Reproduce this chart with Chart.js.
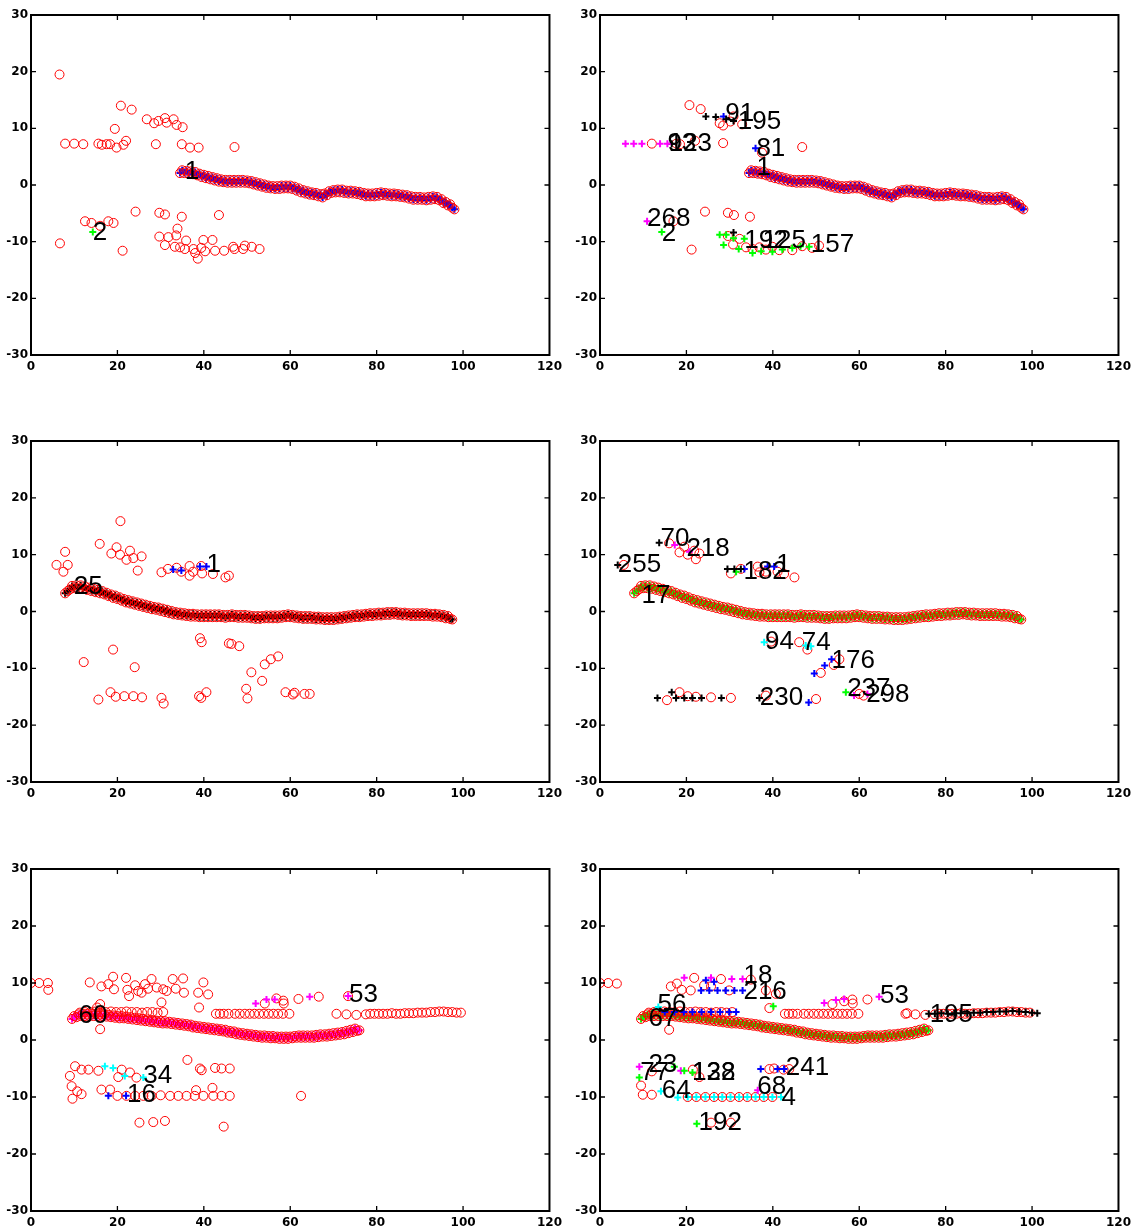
<!DOCTYPE html>
<html><head><meta charset="utf-8">
<script src="https://cdn.jsdelivr.net/npm/chart.js@4.4.1/dist/chart.umd.min.js"></script>
<style>
html,body{margin:0;padding:0;background:#fff;width:1137px;height:1227px;overflow:hidden}
canvas{position:absolute}
</style></head><body>
<script>
// ---- axis ticks ----
const xTicks = [0,20,40,60,80,100,120];
const yTicks = [-30,-20,-10,0,10,20,30];

// ---- main tracks (centre and upper edge of each dense band) ----
const bandA_x = [34.5,35.5,36.5,37.5,38.5,39.5,40.5,41.5,42.5,43.5,44.5,45.5,46.5,47.5,48.5,49.5,50.5,51.5,52.5,53.5,54.5,55.5,56.5,57.5,58.5,59.5,60.5,61.5,62.5,63.5,64.5,65.5,66.5,67.5,68.5,69.5,70.5,71.5,72.5,73.5,74.5,75.5,76.5,77.5,78.5,79.5,80.5,81.5,82.5,83.5,84.5,85.5,86.5,87.5,88.5,89.5,90.5,91.5,92.5,93.5,94.5,95.5,96.5,97.5,98];
const bandA_y = [2.1,2.1,2.0,1.9,1.7,1.4,1.2,1.0,0.8,0.6,0.5,0.4,0.4,0.4,0.4,0.4,0.3,0.1,-0.1,-0.3,-0.5,-0.6,-0.7,-0.7,-0.6,-0.6,-0.7,-1.0,-1.3,-1.5,-1.7,-1.8,-2.0,-2.2,-1.8,-1.4,-1.3,-1.3,-1.4,-1.5,-1.5,-1.6,-1.8,-2.0,-2.0,-2.0,-1.9,-1.8,-1.9,-2.0,-2.0,-2.1,-2.2,-2.4,-2.6,-2.6,-2.6,-2.7,-2.6,-2.5,-2.7,-3.2,-3.6,-4.0,-4.3];
const bandA2_x = [35,36,37,38,39,40,41,42,43,44,45,46,47,48,49,50,51,52,53,54,55,56,57,58,59,60,61,62,63,64,65,66,67,68,69,70,71,72,73,74,75,76,77,78,79,80,81,82,83,84,85,86,87,88,89,90,91,92,93,94,95,96,97];
const bandA2_y = [2.6,2.5,2.4,2.3,2.0,1.8,1.6,1.4,1.2,1.0,0.9,0.9,0.9,0.9,0.9,0.8,0.7,0.5,0.3,0.1,-0.1,-0.2,-0.2,-0.1,-0.1,-0.1,-0.3,-0.6,-0.9,-1.1,-1.3,-1.4,-1.6,-1.5,-1.1,-0.9,-0.8,-0.8,-1.0,-1.0,-1.1,-1.2,-1.4,-1.5,-1.5,-1.4,-1.3,-1.4,-1.5,-1.5,-1.6,-1.7,-1.8,-2.0,-2.1,-2.1,-2.2,-2.1,-2.0,-2.1,-2.5,-3.0,-3.4];
const bandB_x = [7.9,8.5,9,10,11,12,13,14,15,16,17,18,19,20,21,22,23,24,25,26,27,28,29,30,31,32,33,34,35,36,37,38,39,40,41,42,43,44,45,46,47,48,49,50,51,52,53,54,55,56,57,58,59,60,61,62,63,64,65,66,67,68,69,70,71,72,73,74,75,76,77,78,79,80,81,82,83,84,85,86,87,88,89,90,91,92,93,94,95,96,97,97.5];
const bandB_y = [3.2,3.6,3.9,4.1,4.1,4.0,3.8,3.6,3.4,3.2,3.0,2.7,2.4,2.2,1.9,1.6,1.4,1.2,1.0,0.8,0.6,0.4,0.3,0.1,-0.1,-0.3,-0.5,-0.6,-0.7,-0.8,-0.9,-0.9,-1.0,-1.0,-1.0,-1.0,-1.0,-1.0,-1.1,-1.0,-1.0,-1.1,-1.1,-1.1,-1.2,-1.3,-1.3,-1.2,-1.2,-1.2,-1.2,-1.1,-1.0,-1.0,-1.1,-1.2,-1.3,-1.3,-1.3,-1.4,-1.4,-1.5,-1.5,-1.5,-1.4,-1.3,-1.2,-1.1,-1.0,-1.0,-0.9,-0.8,-0.8,-0.7,-0.7,-0.6,-0.6,-0.5,-0.6,-0.7,-0.7,-0.8,-0.8,-0.8,-0.8,-0.8,-0.9,-0.9,-1.0,-1.2,-1.3,-1.4];
const bandB2_x = [9.5,10.5,11.5,12.5,13.5,14.5,15.5,16.5,17.5,18.5,19.5,20.5,21.5,22.5,23.5,24.5,25.5,26.5,27.5,28.5,29.5,30.5,31.5,32.5,33.5,34.5,35.5,36.5,37.5,38.5,39.5,40.5,41.5,42.5,43.5,44.5,45.5,46.5,47.5,48.5,49.5,50.5,51.5,52.5,53.5,54.5,55.5,56.5,57.5,58.5,59.5,60.5,61.5,62.5,63.5,64.5,65.5,66.5,67.5,68.5,69.5,70.5,71.5,72.5,73.5,74.5,75.5,76.5,77.5,78.5,79.5,80.5,81.5,82.5,83.5,84.5,85.5,86.5,87.5,88.5,89.5,90.5,91.5,92.5,93.5,94.5,95.5,96.5];
const bandB2_y = [4.5,4.6,4.6,4.4,4.2,4.0,3.8,3.6,3.3,3.0,2.8,2.5,2.2,2.0,1.8,1.6,1.4,1.2,1.0,0.8,0.7,0.5,0.3,0.1,-0.1,-0.2,-0.3,-0.4,-0.4,-0.5,-0.5,-0.5,-0.5,-0.5,-0.5,-0.6,-0.6,-0.5,-0.6,-0.6,-0.6,-0.7,-0.8,-0.8,-0.8,-0.7,-0.7,-0.7,-0.7,-0.6,-0.5,-0.6,-0.7,-0.8,-0.8,-0.8,-0.9,-0.9,-1.0,-1.0,-1.0,-1.0,-0.9,-0.8,-0.7,-0.6,-0.5,-0.5,-0.4,-0.3,-0.3,-0.2,-0.2,-0.1,-0.1,-0.1,-0.2,-0.2,-0.3,-0.3,-0.3,-0.3,-0.3,-0.4,-0.4,-0.5,-0.6,-0.8];
const bandC_x = [9.5,10.5,11.5,12.5,13.5,14.5,15.5,16.5,17.5,18.5,19.5,20.5,21.5,22.5,23.5,24.5,25.5,26.5,27.5,28.5,29.5,30.5,31.5,32.5,33.5,34.5,35.5,36.5,37.5,38.5,39.5,40.5,41.5,42.5,43.5,44.5,45.5,46.5,47.5,48.5,49.5,50.5,51.5,52.5,53.5,54.5,55.5,56.5,57.5,58.5,59.5,60.5,61.5,62.5,63.5,64.5,65.5,66.5,67.5,68.5,69.5,70.5,71.5,72.5,73.5,74.5,75.5,76];
const bandC_y = [3.7,4.0,4.2,4.2,4.2,4.2,4.2,4.2,4.1,4.0,3.9,3.8,3.8,3.7,3.6,3.5,3.4,3.3,3.2,3.1,3.0,2.9,2.9,2.8,2.7,2.6,2.5,2.4,2.2,2.1,2.0,1.9,1.8,1.7,1.6,1.5,1.3,1.2,1.0,0.9,0.8,0.7,0.6,0.5,0.4,0.4,0.3,0.3,0.2,0.2,0.2,0.3,0.4,0.4,0.4,0.4,0.4,0.5,0.6,0.6,0.7,0.8,0.9,1.0,1.2,1.4,1.6,1.7];
const bandC2_x = [10,11,12,13,14,15,16,17,18,19,20,21,22,23,24,25,26,27,28,29,30,31,32,33,34,35,36,37,38,39,40,41,42,43,44,45,46,47,48,49,50,51,52,53,54,55,56,57,58,59,60,61,62,63,64,65,66,67,68,69,70,71,72,73,74,75];
const bandC2_y = [4.2,4.5,4.6,4.6,4.6,4.6,4.6,4.5,4.4,4.3,4.2,4.2,4.1,4.0,3.9,3.8,3.7,3.6,3.5,3.4,3.3,3.3,3.2,3.1,3.0,2.9,2.8,2.7,2.5,2.4,2.3,2.2,2.1,2.0,1.9,1.8,1.6,1.5,1.3,1.2,1.1,1.0,0.9,0.8,0.8,0.7,0.7,0.6,0.6,0.6,0.6,0.7,0.8,0.8,0.8,0.8,0.9,1.0,1.0,1.1,1.2,1.3,1.4,1.6,1.8,2.0];
const topC_x = [11.3,12.5,13.7,14.9,16.1,17.3,18.5,19.7,20.9,22.1,23.3,24.5,25.7,26.9,28.1,29.3,30.6];
const topC_y = [4.8,4.9,4.9,5.0,4.9,4.9,5.0,4.9,4.9,5.0,4.9,4.9,4.8,4.9,4.9,4.8,4.9];
const farC_x = [42.8,43.7,44.6,45.7,47.2,48.3,49.5,50.6,51.7,52.8,53.9,55,56.1,57.2,58.3,59.8,70.7,73,75.3,77.5,78.5,79.5,80.5,81.5,82.5,83.5,84.5,85.5,86.5,87.5,88.5,89.5,90.5,91.5,92.5,93.5,94.5,95.5,96.5,97.5,98.5,99.5];
const farC_y = [4.6,4.6,4.6,4.6,4.6,4.6,4.6,4.6,4.6,4.6,4.6,4.6,4.6,4.6,4.6,4.6,4.6,4.5,4.4,4.5,4.6,4.6,4.6,4.6,4.6,4.7,4.6,4.6,4.7,4.7,4.7,4.8,4.8,4.8,4.9,4.9,5.0,5.0,4.9,4.9,4.8,4.8];

// ---- panel 1 ----
const p1Circles = [[6.6,19.5],[6.7,-10.3],[7.9,7.3],[10,7.3],[12.1,7.2],[12.5,-6.4],[14.0,-6.7],[15.6,7.3],[16.4,7.1],[16.0,-7.2],[17.5,7.2],[17.9,-6.4],[18.3,7.2],[19.1,-6.7],[19.4,9.9],[19.8,6.6],[20.8,14.0],[21.2,-11.6],[21.4,7.1],[22,7.8],[23.3,13.3],[24.2,-4.7],[26.8,11.6],[28.5,10.9],[28.9,7.2],[29.5,11.3],[29.7,-4.9],[29.7,-9.1],[31.0,-5.2],[31,11.8],[31.4,11.0],[31,-10.6],[31.8,-9.2],[33,11.6],[33.3,-10.9],[33.6,-8.9],[33.7,10.6],[33.9,-7.7],[34.5,-11],[34.9,-5.6],[34.9,7.2],[35.1,10.2],[35.6,-11.3],[35.9,-9.8],[36.8,6.6],[37.6,-11.3],[38,-12],[38.6,-13],[38.8,6.6],[39.4,-11.1],[39.9,-9.7],[40.3,-11.7],[42,-9.7],[42.6,-11.6],[43.5,-5.3],[44.7,-11.6],[46.8,-10.9],[47.1,6.7],[47.1,-11.3],[49.1,-11.3],[49.5,-10.7],[51.1,-10.9],[52.9,-11.3]];
const p1Green = [[14.3,-8.3]];
const p1Labels = [[35.6,2.3,'1'],[14.3,-8.4,'2']];

// ---- panel 2 ----
const p2Circles = [[20.7,14.1],[23.3,13.4],[27.7,10.9],[28.5,10.5],[30.9,12.1],[32.9,10.7],[30.2,11.2],[28.5,7.4],[12,7.3],[17.7,7.3],[18.5,7.2],[22,7.8],[37.5,5.7],[46.8,6.7],[24.3,-4.7],[29.6,-4.9],[31,-5.3],[34.7,-5.6],[21.2,-11.4],[17,-6.4],[29.6,-9],[30.8,-10.5],[32.3,-9.5],[33.8,-11],[35.3,-11.3],[36.9,-11],[38.4,-11.4],[39.9,-10.9],[41.5,-11.5],[44.5,-11.5],[46.8,-10.8],[49.1,-11.1],[50.7,-10.7]];
const p2Magenta = [[5.9,7.3],[7.8,7.3],[9.7,7.3],[13.9,7.3],[15.6,7.3],[10.9,-6.4]];
const p2Black = [[16.6,7.3],[24.5,12.1],[26.8,12.0],[29.2,11.6],[30.9,11.3],[30.9,-8.4]];
const p2Blue = [[28.6,12.1],[36,6.5]];
const p2Green = [[14.3,-8.3],[27.7,-8.8],[29.2,-8.8],[28.6,-10.6],[30.9,-9.4],[32.1,-11.3],[33.4,-9.5],[35.3,-12],[37.3,-11.7],[39.9,-11.8],[42.2,-11.4],[44.5,-11.1],[46.4,-10.8],[48.4,-10.9]];
const p2Labels = [[15.6,7.2,'93'],[15.9,7.2,'123'],[29.0,12.5,'91'],[31.9,11.2,'195'],[36.2,6.3,'81'],[36.2,3.1,'1'],[10.9,-6.0,'268'],[14.3,-8.6,'2'],[33.4,-9.9,'192'],[37.6,-9.9,'125'],[48.8,-10.6,'157']];

// ---- panel 3 ----
const p3Circles = [[5.9,8.2],[7.9,10.5],[7.5,7],[8.5,8.2],[15.9,11.9],[20.7,15.9],[18.6,10.2],[19.8,11.3],[20.6,10],[22.1,9.1],[22.9,10.7],[23.7,9.4],[24.7,7.2],[25.6,9.7],[30.2,6.9],[31.7,7.5],[33.7,7.7],[34.8,7],[36.7,8],[36.7,6.3],[37.5,7],[39.4,8],[39.6,6.7],[42.1,6.6],[45,6],[45.8,6.3],[12.2,-8.9],[19,-6.7],[24,-9.8],[15.6,-15.5],[18.4,-14.2],[19.6,-15],[21.6,-14.9],[23.7,-14.9],[25.7,-15.1],[30.2,-15.2],[30.7,-16.2],[39.1,-4.7],[39.5,-5.4],[38.9,-14.9],[39.4,-15.2],[40.6,-14.2],[45.8,-5.6],[46.4,-5.7],[48.2,-6.1],[49.8,-13.6],[50.1,-15.3],[51,-10.7],[53.5,-12.2],[54.1,-9.3],[55.5,-8.4],[57.2,-7.9],[58.9,-14.2],[60.6,-14.6],[61,-14.3],[63.3,-14.5],[64.5,-14.5]];
const p3Blue = [[32.9,7.4],[34.8,7.2],[39.1,7.9],[40.6,7.9]];
const p3Labels = [[9.9,4.4,'25'],[40.6,8.2,'1']];

// ---- panel 4 ----
const p4Circles = [[16,12],[18.4,10.4],[19.5,11.4],[20.3,10],[21.8,10.7],[23,10.2],[22.2,9.2],[30.3,6.7],[32.6,7.5],[36.5,7.9],[36.9,6.9],[38.4,7],[41.1,7],[42.6,6.6],[45,6],[5.5,8.2],[39.6,-5.3],[46.1,-5.4],[48,-6.7],[51.1,-10.8],[54.1,-9.4],[55.4,-8.4],[50,-15.4],[38.4,-14.8],[15.5,-15.6],[18.4,-14.2],[20.3,-14.9],[22.2,-15],[25.7,-15.1],[30.3,-15.2],[60,-14.5],[61,-14.8]];
const p4Black = [[4.1,8.2],[13.7,12.1],[29.5,7.5],[31.1,7.5],[32.6,7.5],[36.9,-15.2],[13.3,-15.2],[16.6,-14.2],[17.6,-15.2],[19.5,-15.2],[21.4,-15.2],[23.5,-15.2],[28.1,-15.2]];
const p4Magenta = [[17.3,11.7],[20.7,10.5],[58.8,-14.8],[61.9,-14.5]];
const p4Blue = [[33.4,7.5],[38.8,7.9],[40.3,7.9],[49.6,-10.9],[52,-9.5],[53.6,-8.4],[48.3,-16]];
const p4Green = [[31.5,7],[56.9,-14.2]];
const p4Cyan = [[38,-5.4],[47.6,-6],[48.8,-6.1]];
const p4Labels = [[4.1,8.3,'255'],[14.0,12.8,'70'],[20.0,11.0,'218'],[33.2,6.9,'182'],[40.8,8.2,'1'],[9.6,2.8,'17'],[38.2,-5.3,'94'],[46.7,-5.6,'74'],[53.6,-8.7,'176'],[37.0,-15.2,'230'],[57.2,-13.6,'237'],[61.6,-14.6,'298']];

// ---- panel 5 ----
const p5Circles = [[0,10],[1.9,10],[3.9,10],[4,8.8],[13.6,10.1],[16.3,9.4],[17.9,9.8],[19,11.1],[19.2,8.9],[22,10.9],[22.3,8.8],[22.7,7.7],[24.1,9.6],[24.8,8.6],[25.6,8.3],[26.4,9.8],[27.1,9],[27.9,10.7],[29.1,9.2],[30.6,8.9],[31.4,8.6],[32.8,10.7],[33.5,9],[35.2,10.8],[35.4,8.3],[38.7,8.3],[39.9,10.1],[41,8],[38.9,5.7],[30.2,6.6],[16,6.3],[16,1.9],[15.3,5.7],[9,-6.3],[10.2,-4.6],[11.7,-5.2],[13.3,-5.2],[15.6,-5.4],[9.4,-8.1],[9.6,-10.3],[10.7,-9],[11.7,-9.5],[16.3,-8.7],[18.3,-8.7],[20.2,-6.5],[21,-5.2],[22.9,-5.7],[24.4,-6.6],[20,-9.8],[22.1,-9.8],[24.1,-9.8],[26,-9.8],[27.9,-9.8],[30,-9.7],[32.2,-9.8],[34.1,-9.8],[36,-9.8],[37.9,-9.8],[39.9,-9.8],[42.2,-9.8],[44.1,-9.8],[46,-9.8],[38.2,-8.8],[42,-8.4],[36.2,-3.5],[39.1,-5],[39.5,-5.3],[42.6,-4.9],[44.1,-5],[46,-5],[25.1,-14.5],[28.3,-14.4],[31,-14.2],[44.6,-15.2],[62.5,-9.8],[54.1,6.4],[56.8,7.3],[58.4,6.9],[58.5,6.4],[61.9,7.2],[66.6,7.6],[73.4,7.7]];
const p5Magenta = [[52,6.4],[54.5,7.1],[56.4,7.1],[64.5,7.6],[73.4,7.7]];
const p5Cyan = [[17.1,-4.6],[19,-4.9],[21.7,-6.3],[26,-6.6]];
const p5Blue = [[17.9,-9.8],[22,-9.8]];
const p5Labels = [[11.0,4.3,'60'],[26.0,-6.3,'34'],[22.2,-9.6,'16'],[73.6,7.9,'53']];

// ---- panel 6 ----
const p6Circles = [[0,10],[1.9,10],[3.9,9.9],[16.4,9.4],[17.8,9.9],[18.9,8.8],[21.8,10.9],[21,8.7],[24.1,9.6],[25.7,9.4],[28,10.7],[29.9,8.7],[34.9,10.6],[38.4,8.7],[40.7,8.1],[39.2,5.6],[16,1.8],[9.5,-8],[9.9,-9.6],[12,-9.6],[12,-5.5],[21.5,-5.2],[23,-6.5],[25.7,-14.5],[30.3,-14.5],[39.2,-5.1],[40.3,-5],[42.5,-5.2],[43.8,-5.1],[20.3,-10],[22.3,-10],[24.4,-10],[26.4,-10],[28.3,-10],[30.2,-10],[32.2,-10],[34.1,-10],[36,-10],[37.9,-10],[39.9,-10],[53.8,6.3],[56.5,6.8],[58.4,7.1],[58.5,6.4],[61.9,7.1],[71.1,4.7]];
const p6Green = [[40.1,5.9],[9.1,-6.6],[17.2,-4.7],[19.5,-5.4],[21.4,-5.7],[22.4,-14.7]];
const p6Magenta = [[19.5,10.9],[25.7,10.9],[30.5,10.7],[33,10.7],[9.1,-4.7],[18.7,-5.4],[36.5,-8.8],[51.9,6.5],[54.6,7],[56.5,7.2],[64.6,7.6]];
const p6Blue = [[24.5,10.5],[26.4,10.2],[23.4,8.7],[25.3,8.7],[27.2,8.7],[29.1,8.7],[31.1,8.7],[33,8.7],[15,4.9],[17.2,4.9],[19.4,4.9],[21.4,4.9],[23.5,4.9],[25.7,4.9],[27.8,4.9],[29.9,4.9],[31.5,4.9],[37.2,-5.1],[41.1,-5.1],[42.6,-5.1]];
const p6Cyan = [[14.1,-9],[18,-10.1],[20.3,-10],[22.3,-10],[24.4,-10],[26.4,-10],[28.3,-10],[30.2,-10],[32.2,-10],[34.1,-10],[36,-10],[37.9,-10],[39.9,-10],[41.9,-10],[13.5,5.8]];
const p6Black = [[76.1,4.6],[77.5,4.6],[79,4.7],[80.5,4.6],[82,4.7],[83.5,4.7],[85,4.7],[86.5,4.8],[88,4.8],[89.5,4.9],[91,4.9],[92.5,5.0],[94,5.0],[95.5,5.1],[97,5.0],[98.5,4.9],[100,4.8],[101.2,4.7]];
const p6Labels = [[33.2,11.3,'18'],[33.2,8.4,'216'],[13.3,6.1,'56'],[11.2,3.7,'67'],[11.2,-4.3,'23'],[9.3,-5.8,'77'],[14.3,-8.9,'64'],[21.3,-5.8,'128'],[21.3,-5.8,'132'],[43.0,-4.8,'241'],[36.4,-8.3,'68'],[42.0,-10.2,'4'],[22.8,-14.6,'192'],[64.8,7.8,'53'],[76.3,4.5,'195']];

// ---- helpers ----
const RED='#ff0000', BLUE='#0000ff', GREEN='#00ff00', MAGENTA='#ff00ff', CYAN='#00ffff', BLACK='#000000';
const P = pairs => pairs.map(p => ({x:p[0], y:p[1]}));
const XY = (xs, ys) => xs.map((x,i) => ({x, y:ys[i]}));
const circ = data => ({data, pointStyle:'circle', pointRadius:4.5, pointHoverRadius:4.5, pointBorderWidth:1, pointBorderColor:RED, pointBackgroundColor:'rgba(0,0,0,0)', order:2});
const plus = (data, color, order) => ({data, pointStyle:'cross', pointRadius:3.5, pointHoverRadius:3.5, pointBorderWidth:2, pointBorderColor:color, pointBackgroundColor:color, order: order===undefined?1:order});
const band = (xs, ys, xs2, ys2, color) => [plus(XY(xs,ys),color,3), plus(XY(xs2,ys2),color,3), circ(XY(xs,ys)), circ(XY(xs2,ys2))];

const panels = [
  {c:0, r:0, labels:p1Labels, sets:[...band(bandA_x,bandA_y,bandA2_x,bandA2_y,BLUE), circ(P(p1Circles)), plus(P(p1Green),GREEN)]},
  {c:1, r:0, labels:p2Labels, sets:[...band(bandA_x,bandA_y,bandA2_x,bandA2_y,BLUE), circ(P(p2Circles)), plus(P(p2Magenta),MAGENTA), plus(P(p2Black),BLACK), plus(P(p2Blue),BLUE), plus(P(p2Green),GREEN)]},
  {c:0, r:1, labels:p3Labels, sets:[...band(bandB_x,bandB_y,bandB2_x,bandB2_y,BLACK), circ(P(p3Circles)), plus(P(p3Blue),BLUE)]},
  {c:1, r:1, labels:p4Labels, sets:[...band(bandB_x,bandB_y,bandB2_x,bandB2_y,GREEN), circ(P(p4Circles)), plus(P(p4Black),BLACK), plus(P(p4Magenta),MAGENTA), plus(P(p4Blue),BLUE), plus(P(p4Green),GREEN), plus(P(p4Cyan),CYAN)]},
  {c:0, r:2, labels:p5Labels, sets:[...band(bandC_x,bandC_y,bandC2_x,bandC2_y,MAGENTA), circ(XY(topC_x,topC_y)), circ(XY(farC_x,farC_y)), circ(P(p5Circles)), plus(P(p5Magenta),MAGENTA), plus(P(p5Cyan),CYAN), plus(P(p5Blue),BLUE)]},
  {c:1, r:2, labels:p6Labels, sets:[...band(bandC_x,bandC_y,bandC2_x,bandC2_y,GREEN), circ(XY(topC_x,topC_y)), circ(XY(farC_x,farC_y)), circ(P(p6Circles)), plus(P(p6Green),GREEN), plus(P(p6Magenta),MAGENTA), plus(P(p6Blue),BLUE), plus(P(p6Cyan),CYAN), plus(P(p6Black),BLACK)]}
];

// plot-area geometry (layout only)
const colLeft = [31, 600], plotW = 520;
const rowTop = [15, 441, 869], plotH = [340, 341, 342];
const PADL = 31, PADT = 12, PADR = 16, XH = 24;

const framePlugin = {
  id:'frame',
  afterDraw(chart){
    const {ctx, chartArea:a, scales:{x, y}} = chart;
    ctx.save();
    ctx.strokeStyle = '#000';
    ctx.lineWidth = 2;
    ctx.strokeRect(a.left, a.top, a.right-a.left, a.bottom-a.top);
    ctx.lineWidth = 1.3;
    ctx.beginPath();
    x.ticks.forEach(t => {
      const px = x.getPixelForValue(t.value);
      if (px <= a.left+1 || px >= a.right-1) return;
      ctx.moveTo(px, a.bottom); ctx.lineTo(px, a.bottom-5);
      ctx.moveTo(px, a.top); ctx.lineTo(px, a.top+5);
    });
    y.ticks.forEach(t => {
      const py = y.getPixelForValue(t.value);
      if (py <= a.top+1 || py >= a.bottom-1) return;
      ctx.moveTo(a.left, py); ctx.lineTo(a.left+5, py);
      ctx.moveTo(a.right, py); ctx.lineTo(a.right-5, py);
    });
    ctx.stroke();
    ctx.restore();
  }
};
const labelPlugin = labels => ({
  id:'numLabels',
  afterDatasetsDraw(chart){
    const {ctx, scales:{x, y}} = chart;
    ctx.save();
    ctx.font = '26px "Liberation Sans", Arial, sans-serif';
    ctx.fillStyle = '#000';
    ctx.textAlign = 'left';
    ctx.textBaseline = 'middle';
    labels.forEach(l => ctx.fillText(l[2], x.getPixelForValue(l[0]), y.getPixelForValue(l[1])));
    ctx.restore();
  }
});

const tickFont = {family:'"DejaVu Sans", Arial, sans-serif', weight:'bold', size:12};

panels.forEach(p => {
  const L = colLeft[p.c], T = rowTop[p.r], H = plotH[p.r];
  const cv = document.createElement('canvas');
  const W = PADL + plotW + PADR, CH = PADT + H + XH;
  cv.width = W; cv.height = CH;
  cv.style.left = (L - PADL) + 'px'; cv.style.top = (T - PADT) + 'px';
  cv.style.width = W + 'px'; cv.style.height = CH + 'px';
  document.body.appendChild(cv);
  new Chart(cv, {
    type:'scatter',
    data:{datasets:p.sets},
    options:{
      responsive:false, animation:false, events:[],
      devicePixelRatio:1,
      layout:{padding:{left:0, top:PADT, right:PADR, bottom:0}},
      plugins:{legend:{display:false}, tooltip:{enabled:false}},
      scales:{
        x:{type:'linear', min:0, max:120,
           afterBuildTicks: s => { s.ticks = xTicks.map(v => ({value:v})); },
           afterFit: s => { s.height = XH; },
           grid:{display:false, drawTicks:false}, border:{display:false},
           ticks:{font:tickFont, color:'#000', padding:5, maxRotation:0, autoSkip:false}},
        y:{type:'linear', min:-30, max:30,
           afterBuildTicks: s => { s.ticks = yTicks.map(v => ({value:v})); },
           afterFit: s => { s.width = PADL; },
           grid:{display:false, drawTicks:false}, border:{display:false},
           ticks:{font:tickFont, color:'#000', padding:3, autoSkip:false}}
      }
    },
    plugins:[framePlugin, labelPlugin(p.labels)]
  });
});
</script>
</body></html>
